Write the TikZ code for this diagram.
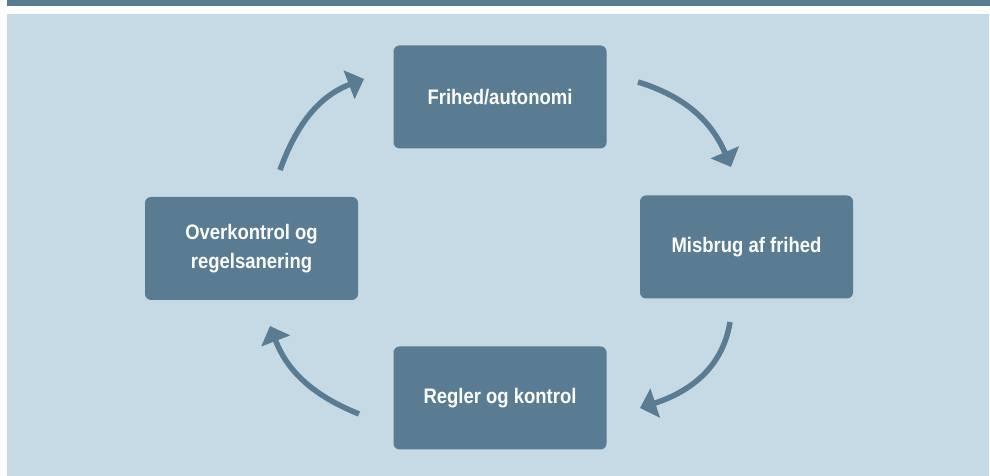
\documentclass[tikz,border=0pt]{standalone}
\usepackage{fontspec}
\setmainfont{Liberation Sans}[FakeStretch=0.88]
\usepackage{tikz}
\usetikzlibrary{arrows.meta,positioning,calc}
\definecolor{boxblue}{HTML}{597C92}
\definecolor{paleblue}{HTML}{C6DAE6}
\tikzstyle{box}=[fill=boxblue,rounded corners=6pt,minimum width=213pt,minimum height=103pt,inner sep=0pt,text=white,align=center,font=\bfseries\fontsize{21}{29}\selectfont]
\tikzstyle{cyclearrow}=[draw=boxblue,line width=5.5pt,-{Triangle[width=30pt,length=16pt]}]

\begin{document}
\begin{tikzpicture}[x=1pt,y=1pt]
\useasboundingbox (0,0) rectangle (990,476);
\fill[paleblue] (7,0) rectangle (989,462);
\fill[boxblue] (7,469.5) rectangle (990,476);
\node [box] (frihed) at (500,379) {Frihed/autonomi};
\node [box] (misbrug) at (746.5,229) {Misbrug af frihed};
\node [box] (regler) at (500,78) {Regler og kontrol};
\node [box] (overkontrol) at (251.5,227.5) {Overkontrol og\\regelsanering};
\coordinate (a1) at (280,306);
\coordinate (b1) at (364,397);
\coordinate (a2) at (638,394);
\coordinate (b2) at (731,309);
\coordinate (a3) at (730,154);
\coordinate (b3) at (640,68);
\coordinate (a4) at (359,62);
\coordinate (b4) at (270,150);
\draw [cyclearrow] (a1) to[out=70,in=201] (b1);
\draw [cyclearrow] (a2) to[out=-17,in=113] (b2);
\draw [cyclearrow] (a3) to[out=261,in=18] (b3);
\draw [cyclearrow] (a4) to[out=158,in=291] (b4);
\end{tikzpicture}
\end{document}
